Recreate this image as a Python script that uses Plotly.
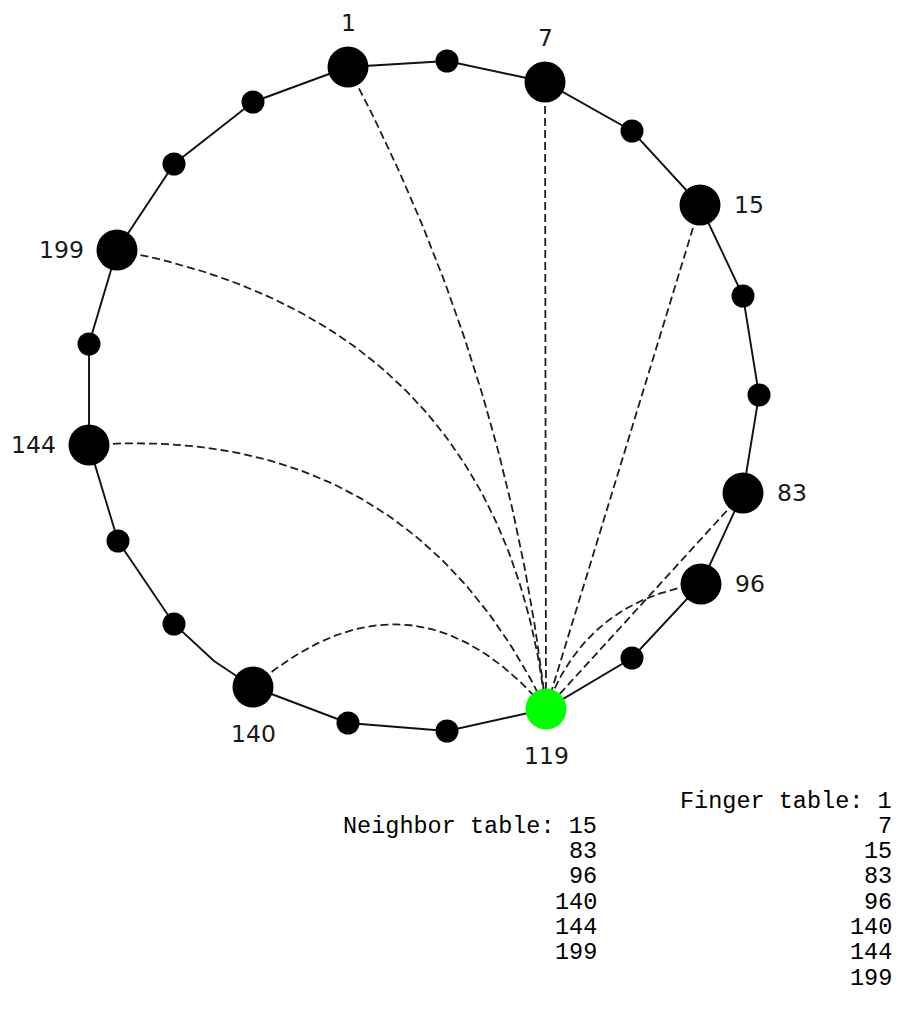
import numpy as np
import plotly.graph_objects as go

# ---- data (pixel space, y downwards) ----
ring_x = [348, 447, 545, 632, 700, 743, 759, 743, 701, 632, 546, 447, 348, 253, 214, 174, 118, 89, 89, 117, 174, 253]
ring_y = [67, 61, 82, 131, 205, 296, 395, 493, 584, 658, 709, 731, 723, 687, 661, 624, 541, 445, 344, 250, 164, 102]
ring_label = ["1", "", "7", "", "15", "", "", "83", "96", "", "119", "", "", "140", "", "", "", "144", "", "199", "", ""]
ring_kind = ["peer", "relay", "peer", "relay", "peer", "relay", "relay", "peer", "peer", "relay", "self",
             "relay", "relay", "peer", "bend", "relay", "relay", "peer", "relay", "peer", "relay", "relay"]

self_node = "119"
finger_targets = ["1", "7", "15", "83", "96", "140", "144", "199"]
finger_bend = [0.095, 0.0, 0.0, 0.0, -0.3, 0.5, 0.34, 0.367]

neighbor_table = ["15", "83", "96", "140", "144", "199"]
finger_table = ["1", "7", "15", "83", "96", "140", "144", "199"]

# ---- style ----
PAGE_W, PAGE_H = 901, 1030
BODY_MARGIN = 8  # default HTML body margin
W, H = PAGE_W - BODY_MARGIN, PAGE_H - 2 * BODY_MARGIN
RING_COLOR = "#111111"
DASH_COLOR = "#1e1e1e"
BIG, SMALL = 41, 23
LABEL_FONT = dict(family="DejaVu Sans", size=23.5, color="#1a1a1a")
TABLE_FONT = dict(family="Liberation Mono", size=23.5, color="#000000")

fig = go.Figure()

# ring polyline (closed)
fig.add_trace(go.Scatter(
    x=ring_x + ring_x[:1], y=ring_y + ring_y[:1], mode="lines",
    line=dict(color=RING_COLOR, width=1.9), hoverinfo="skip", showlegend=False))

# finger edges: quadratic Bezier curves from self node to each target
pos = {lab: (x, y) for lab, x, y in zip(ring_label, ring_x, ring_y) if lab}
sx, sy = pos[self_node]
t = np.linspace(0, 1, 80)
for tgt, b in zip(finger_targets, finger_bend):
    tx, ty = pos[tgt]
    dx, dy = tx - sx, ty - sy
    L = np.hypot(dx, dy)
    nx, ny = -dy / L, dx / L
    cx = (sx + tx) / 2 + b * L * nx
    cy = (sy + ty) / 2 + b * L * ny
    bx = (1 - t) ** 2 * tx + 2 * t * (1 - t) * cx + t ** 2 * sx
    by = (1 - t) ** 2 * ty + 2 * t * (1 - t) * cy + t ** 2 * sy
    fig.add_trace(go.Scatter(
        x=bx, y=by, mode="lines",
        line=dict(color=DASH_COLOR, width=1.8, dash="8px,4px"),
        hoverinfo="skip", showlegend=False))

# nodes
size_map = {"peer": BIG, "self": BIG, "relay": SMALL, "bend": 0}
color_map = {"peer": "#000000", "self": "#00ff00", "relay": "#000000", "bend": "#000000"}
fig.add_trace(go.Scatter(
    x=ring_x, y=ring_y, mode="markers",
    marker=dict(size=[size_map[k] for k in ring_kind],
                color=[color_map[k] for k in ring_kind],
                opacity=1, line=dict(width=0)),
    hoverinfo="skip", showlegend=False))

# node labels, placed outward from ring centre
cxr, cyr = np.mean(ring_x), np.mean(ring_y)
for lab, x, y in zip(ring_label, ring_x, ring_y):
    if not lab:
        continue
    dx, dy = x - cxr, y - cyr
    if abs(dx) > abs(dy):
        if dx > 0:
            kw = dict(xanchor="left", yanchor="middle", xshift=32, yshift=0)
        else:
            kw = dict(xanchor="right", yanchor="middle", xshift=-31, yshift=0)
    else:
        if dy < 0:
            kw = dict(xanchor="center", yanchor="middle", xshift=0, yshift=44)
        else:
            kw = dict(xanchor="center", yanchor="middle", xshift=0, yshift=-47)
    fig.add_annotation(x=x, y=y, text=lab, showarrow=False, font=LABEL_FONT, **kw)

# tables (monospace, right aligned columns)
row0, row_h = 801, 25.3
neigh_right, finger_right = 599, 894
for i, v in enumerate(finger_table):
    txt = ("Finger table: " + v) if i == 0 else v
    fig.add_annotation(x=finger_right, y=row0 + i * row_h, text=txt.replace(" ", "&nbsp;"),
                       showarrow=False, xanchor="right", yanchor="middle", font=TABLE_FONT)
for i, v in enumerate(neighbor_table):
    txt = ("Neighbor table: " + v) if i == 0 else v
    fig.add_annotation(x=neigh_right, y=row0 + (i + 1) * row_h, text=txt.replace(" ", "&nbsp;"),
                       showarrow=False, xanchor="right", yanchor="middle", font=TABLE_FONT)

# axes map data units 1:1 onto page pixels (figure sits at the body margin offset)
fig.update_layout(
    width=W, height=H, margin=dict(l=0, r=0, t=0, b=0),
    paper_bgcolor="white", plot_bgcolor="white",
    xaxis=dict(range=[BODY_MARGIN, BODY_MARGIN + W], visible=False, fixedrange=True),
    yaxis=dict(range=[BODY_MARGIN + H, BODY_MARGIN], visible=False, fixedrange=True),
    showlegend=False,
)
fig.write_html("out.html", config={"displayModeBar": False})
